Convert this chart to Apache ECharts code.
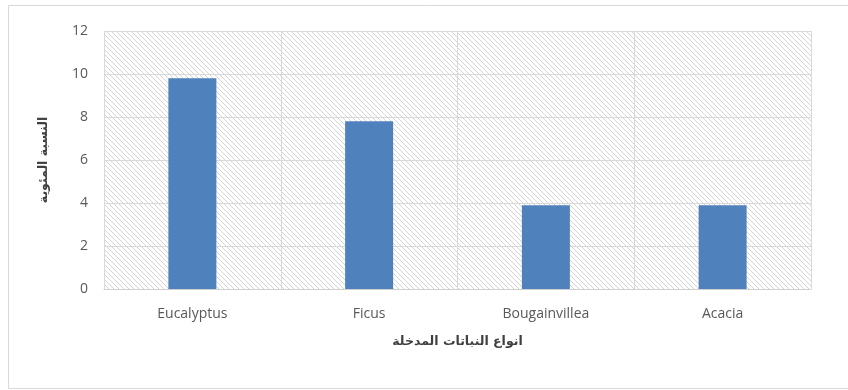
<!DOCTYPE html>
<html>
<head>
<meta charset="utf-8">
<script src="https://cdn.jsdelivr.net/npm/echarts@6/dist/echarts.min.js"></script>
<style>
html,body{margin:0;padding:0;background:#fff;}
#c{width:848px;height:390px;}
</style>
</head>
<body>
<div id="c"></div>
<script>
const categories = ['Eucalyptus', 'Ficus', 'Bougainvillea', 'Acacia'];
const values = [9.8, 7.8, 3.9, 3.9];
const yTicks = [0, 2, 4, 6, 8, 10, 12];
const xTitle = 'انواع النباتات المدخلة';
const yTitle = 'النسبة المئوية';

function makePattern() {
  const s = 5;
  const cv = document.createElement('canvas');
  cv.width = s; cv.height = s;
  const ctx = cv.getContext('2d');
  ctx.fillStyle = '#ffffff';
  ctx.fillRect(0, 0, s, s);
  ctx.strokeStyle = '#d4d4d4';
  ctx.lineWidth = 1;
  ctx.beginPath();
  for (const o of [-s, 0, s]) {
    ctx.moveTo(o - 1, -1);
    ctx.lineTo(o + s + 1, s + 1);
  }
  ctx.stroke();
  return cv;
}

const chart = echarts.init(document.getElementById('c'));
chart.setOption({
  animation: false,
  backgroundColor: '#ffffff',
  graphic: [{
    type: 'rect',
    shape: { x: 8.5, y: 5.5, width: 850, height: 383 },
    style: { fill: 'none', stroke: '#d9d9d9', lineWidth: 1 },
    silent: true,
    z: -1
  }],
  grid: {
    left: 104, right: 37, top: 31, bottom: 101,
    show: true,
    borderWidth: 0,
    backgroundColor: { image: makePattern(), repeat: 'repeat' }
  },
  xAxis: {
    type: 'category',
    data: categories,
    name: xTitle,
    nameLocation: 'middle',
    nameGap: 46,
    nameTextStyle: { fontFamily: 'DejaVu Sans', fontWeight: 'bold', fontSize: 12.5, color: '#404040' },
    axisLine: { lineStyle: { color: '#d0d0d0' } },
    axisTick: { show: false },
    axisLabel: { fontFamily: 'Open Sans', fontSize: 14, color: '#595959', margin: 18 },
    splitLine: { show: true, lineStyle: { color: '#d9d9d9' } }
  },
  yAxis: {
    type: 'value',
    min: yTicks[0],
    max: yTicks[yTicks.length - 1],
    interval: 2,
    name: yTitle,
    nameLocation: 'middle',
    nameGap: 54,
    nameTextStyle: { fontFamily: 'DejaVu Sans', fontWeight: 'bold', fontSize: 12.5, color: '#404040' },
    axisLine: { show: false },
    axisTick: { show: false },
    axisLabel: { fontFamily: 'Open Sans', fontSize: 14, color: '#595959', margin: 16 },
    splitLine: { show: true, lineStyle: { color: '#d9d9d9' } }
  },
  series: [{
    type: 'bar',
    data: values,
    barWidth: 48,
    itemStyle: { color: '#4f81bd' }
  }]
});
</script>
</body>
</html>
